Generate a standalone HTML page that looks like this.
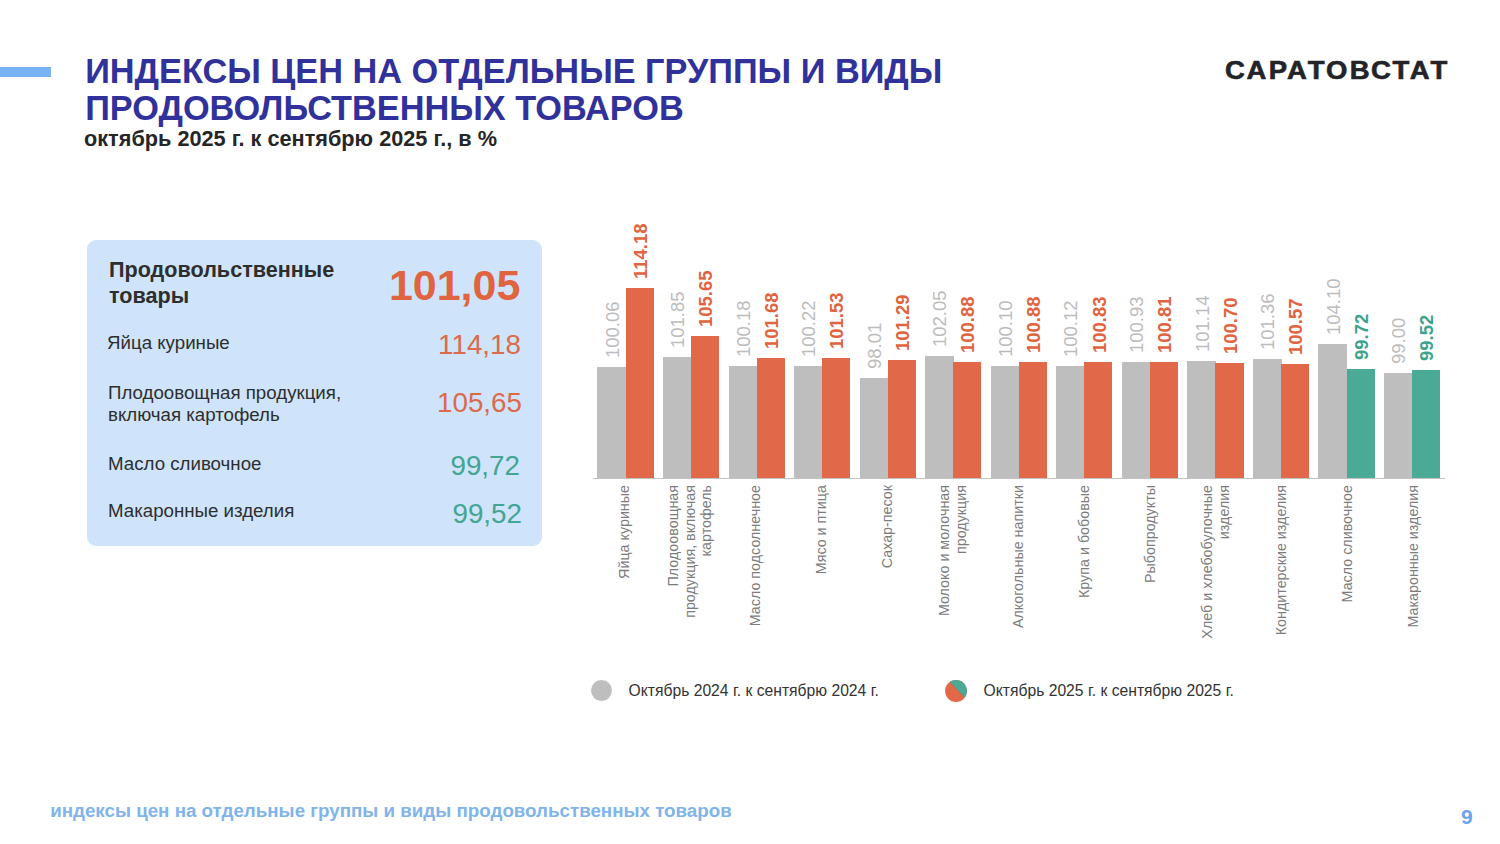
<!DOCTYPE html>
<html><head><meta charset="utf-8">
<style>
html,body{margin:0;padding:0;}
body{width:1500px;height:844px;position:relative;overflow:hidden;background:#ffffff;font-family:"Liberation Sans", sans-serif;}
.a{position:absolute;white-space:nowrap;}
.b{position:absolute;}
.vl{position:absolute;transform:rotate(-90deg);transform-origin:0 0;white-space:nowrap;font-size:18.5px;text-align:left;}
.cl{position:absolute;transform:rotate(-90deg);transform-origin:0 0;white-space:nowrap;font-size:14.3px;text-align:right;color:#7c7c7c;}
.ttl{font-weight:bold;font-size:34.3px;line-height:34.3px;color:#31319b;}
.card{position:absolute;left:87px;top:240px;width:455px;height:306px;background:#cfe4fb;border-radius:9px;}
.ct{color:#2e2e2e;}
.num{text-align:right;}
</style></head>
<body>
<div class="a" style="left:0;top:67px;width:51px;height:10px;background:#78b4f4"></div>
<div class="a ttl" style="left:85.2px;top:54.1px">ИНДЕКСЫ ЦЕН НА ОТДЕЛЬНЫЕ ГРУППЫ И ВИДЫ</div>
<div class="a ttl" style="left:85.2px;top:91.2px">ПРОДОВОЛЬСТВЕННЫХ ТОВАРОВ</div>
<div class="a" style="left:84px;top:127.6px;font-weight:bold;font-size:21.7px;line-height:21.7px;color:#262626">октябрь 2025 г. к сентябрю 2025 г., в %</div>
<div class="a" style="left:1225px;top:58.4px;font-weight:bold;font-size:25px;line-height:25px;letter-spacing:2.1px;color:#222428;-webkit-text-stroke:0.6px #222428;transform:scaleX(1.1);transform-origin:0 0">САРАТОВСТАТ</div>

<div class="card"></div>
<div class="a ct" style="left:109px;top:257.0px;font-weight:bold;font-size:21.6px;line-height:26.2px;">Продовольственные<br>товары</div>
<div class="a num" style="right:979.6px;top:263.8px;font-weight:bold;font-size:43px;line-height:43px;color:#e0643f">101,05</div>
<div class="a ct" style="left:107px;top:333.8px;font-size:18.7px;line-height:18.7px;">Яйца куриные</div>
<div class="a num" style="right:979px;top:331.2px;font-size:27.8px;line-height:27.8px;color:#dc6a4c">114,18</div>
<div class="a ct" style="left:108px;top:381.5px;font-size:18.7px;line-height:22.3px;">Плодоовощная продукция,<br>включая картофель</div>
<div class="a num" style="right:978px;top:388.9px;font-size:27.8px;line-height:27.8px;color:#dc6a4c">105,65</div>
<div class="a ct" style="left:108px;top:455.3px;font-size:18.7px;line-height:18.7px;">Масло сливочное</div>
<div class="a num" style="right:980px;top:452px;font-size:27.8px;line-height:27.8px;color:#43a592">99,72</div>
<div class="a ct" style="left:108px;top:501.8px;font-size:18.7px;line-height:18.7px;">Макаронные изделия</div>
<div class="a num" style="right:978px;top:500.4px;font-size:27.8px;line-height:27.8px;color:#43a592">99,52</div>

<div class="a" style="left:592.6px;top:478px;width:852.2px;height:1.2px;background:#c4c4c4"></div>
<div class="b" style="left:597.40px;top:366.67px;width:28.80px;height:111.73px;background:#bebebe"></div>
<div class="b" style="left:625.50px;top:288.02px;width:28.10px;height:190.38px;background:#e2684a"></div>
<div class="vl" style="left:603.60px;top:357.67px;width:80px;height:18.5px;line-height:18.5px;color:#bcbcbc;font-weight:normal">100.06</div>
<div class="vl" style="left:631.70px;top:279.02px;width:80px;height:18.5px;line-height:18.5px;color:#e0643f;font-weight:bold">114.18</div>
<div class="cl" style="left:615.80px;top:665.30px;width:180px;height:16.60px;line-height:16.6px">Яйца куриные</div>
<div class="b" style="left:662.95px;top:356.70px;width:28.80px;height:121.70px;background:#bebebe"></div>
<div class="b" style="left:691.05px;top:335.53px;width:28.10px;height:142.87px;background:#e2684a"></div>
<div class="vl" style="left:669.15px;top:347.70px;width:80px;height:18.5px;line-height:18.5px;color:#bcbcbc;font-weight:normal">101.85</div>
<div class="vl" style="left:697.25px;top:326.53px;width:80px;height:18.5px;line-height:18.5px;color:#e0643f;font-weight:bold">105.65</div>
<div class="cl" style="left:664.95px;top:665.30px;width:180px;height:49.80px;line-height:16.6px">Плодоовощная<br>продукция, включая<br>картофель</div>
<div class="b" style="left:728.50px;top:366.00px;width:28.80px;height:112.40px;background:#bebebe"></div>
<div class="b" style="left:756.60px;top:357.64px;width:28.10px;height:120.76px;background:#e2684a"></div>
<div class="vl" style="left:734.70px;top:357.00px;width:80px;height:18.5px;line-height:18.5px;color:#bcbcbc;font-weight:normal">100.18</div>
<div class="vl" style="left:762.80px;top:348.64px;width:80px;height:18.5px;line-height:18.5px;color:#e0643f;font-weight:bold">101.68</div>
<div class="cl" style="left:747.30px;top:665.30px;width:180px;height:16.60px;line-height:16.6px">Масло подсолнечное</div>
<div class="b" style="left:794.05px;top:365.77px;width:28.80px;height:112.63px;background:#bebebe"></div>
<div class="b" style="left:822.15px;top:358.48px;width:28.10px;height:119.92px;background:#e2684a"></div>
<div class="vl" style="left:800.25px;top:356.77px;width:80px;height:18.5px;line-height:18.5px;color:#bcbcbc;font-weight:normal">100.22</div>
<div class="vl" style="left:828.35px;top:349.48px;width:80px;height:18.5px;line-height:18.5px;color:#e0643f;font-weight:bold">101.53</div>
<div class="cl" style="left:813.05px;top:665.30px;width:180px;height:16.60px;line-height:16.6px">Мясо и птица</div>
<div class="b" style="left:859.60px;top:378.08px;width:28.80px;height:100.32px;background:#bebebe"></div>
<div class="b" style="left:887.70px;top:359.81px;width:28.10px;height:118.59px;background:#e2684a"></div>
<div class="vl" style="left:865.80px;top:369.08px;width:80px;height:18.5px;line-height:18.5px;color:#bcbcbc;font-weight:normal">98.01</div>
<div class="vl" style="left:893.90px;top:350.81px;width:80px;height:18.5px;line-height:18.5px;color:#e0643f;font-weight:bold">101.29</div>
<div class="cl" style="left:878.80px;top:665.30px;width:180px;height:16.60px;line-height:16.6px">Сахар-песок</div>
<div class="b" style="left:925.15px;top:355.58px;width:28.80px;height:122.82px;background:#bebebe"></div>
<div class="b" style="left:953.25px;top:362.10px;width:28.10px;height:116.30px;background:#e2684a"></div>
<div class="vl" style="left:931.35px;top:346.58px;width:80px;height:18.5px;line-height:18.5px;color:#bcbcbc;font-weight:normal">102.05</div>
<div class="vl" style="left:959.45px;top:353.10px;width:80px;height:18.5px;line-height:18.5px;color:#e0643f;font-weight:bold">100.88</div>
<div class="cl" style="left:936.25px;top:665.30px;width:180px;height:33.20px;line-height:16.6px">Молоко и молочная<br>продукция</div>
<div class="b" style="left:990.70px;top:366.44px;width:28.80px;height:111.96px;background:#bebebe"></div>
<div class="b" style="left:1018.80px;top:362.10px;width:28.10px;height:116.30px;background:#e2684a"></div>
<div class="vl" style="left:996.90px;top:357.44px;width:80px;height:18.5px;line-height:18.5px;color:#bcbcbc;font-weight:normal">100.10</div>
<div class="vl" style="left:1025.00px;top:353.10px;width:80px;height:18.5px;line-height:18.5px;color:#e0643f;font-weight:bold">100.88</div>
<div class="cl" style="left:1010.30px;top:665.30px;width:180px;height:16.60px;line-height:16.6px">Алкогольные напитки</div>
<div class="b" style="left:1056.25px;top:366.33px;width:28.80px;height:112.07px;background:#bebebe"></div>
<div class="b" style="left:1084.35px;top:362.38px;width:28.10px;height:116.02px;background:#e2684a"></div>
<div class="vl" style="left:1062.45px;top:357.33px;width:80px;height:18.5px;line-height:18.5px;color:#bcbcbc;font-weight:normal">100.12</div>
<div class="vl" style="left:1090.55px;top:353.38px;width:80px;height:18.5px;line-height:18.5px;color:#e0643f;font-weight:bold">100.83</div>
<div class="cl" style="left:1076.05px;top:665.30px;width:180px;height:16.60px;line-height:16.6px">Крупа и бобовые</div>
<div class="b" style="left:1121.80px;top:361.82px;width:28.80px;height:116.58px;background:#bebebe"></div>
<div class="b" style="left:1149.90px;top:362.49px;width:28.10px;height:115.91px;background:#e2684a"></div>
<div class="vl" style="left:1128.00px;top:352.82px;width:80px;height:18.5px;line-height:18.5px;color:#bcbcbc;font-weight:normal">100.93</div>
<div class="vl" style="left:1156.10px;top:353.49px;width:80px;height:18.5px;line-height:18.5px;color:#e0643f;font-weight:bold">100.81</div>
<div class="cl" style="left:1141.80px;top:665.30px;width:180px;height:16.60px;line-height:16.6px">Рыбопродукты</div>
<div class="b" style="left:1187.35px;top:360.65px;width:28.80px;height:117.75px;background:#bebebe"></div>
<div class="b" style="left:1215.45px;top:363.10px;width:28.10px;height:115.30px;background:#e2684a"></div>
<div class="vl" style="left:1193.55px;top:351.65px;width:80px;height:18.5px;line-height:18.5px;color:#bcbcbc;font-weight:normal">101.14</div>
<div class="vl" style="left:1221.65px;top:354.10px;width:80px;height:18.5px;line-height:18.5px;color:#e0643f;font-weight:bold">100.70</div>
<div class="cl" style="left:1199.25px;top:665.30px;width:180px;height:33.20px;line-height:16.6px">Хлеб и хлебобулочные<br>изделия</div>
<div class="b" style="left:1252.90px;top:359.42px;width:28.80px;height:118.98px;background:#bebebe"></div>
<div class="b" style="left:1281.00px;top:363.83px;width:28.10px;height:114.57px;background:#e2684a"></div>
<div class="vl" style="left:1259.10px;top:350.42px;width:80px;height:18.5px;line-height:18.5px;color:#bcbcbc;font-weight:normal">101.36</div>
<div class="vl" style="left:1287.20px;top:354.83px;width:80px;height:18.5px;line-height:18.5px;color:#e0643f;font-weight:bold">100.57</div>
<div class="cl" style="left:1273.30px;top:665.30px;width:180px;height:16.60px;line-height:16.6px">Кондитерские изделия</div>
<div class="b" style="left:1318.45px;top:344.16px;width:28.80px;height:134.24px;background:#bebebe"></div>
<div class="b" style="left:1346.55px;top:368.56px;width:28.10px;height:109.84px;background:#4aaa96"></div>
<div class="vl" style="left:1324.65px;top:335.16px;width:80px;height:18.5px;line-height:18.5px;color:#bcbcbc;font-weight:normal">104.10</div>
<div class="vl" style="left:1352.75px;top:359.56px;width:80px;height:18.5px;line-height:18.5px;color:#3ea38e;font-weight:bold">99.72</div>
<div class="cl" style="left:1339.05px;top:665.30px;width:180px;height:16.60px;line-height:16.6px">Масло сливочное</div>
<div class="b" style="left:1384.00px;top:372.57px;width:28.80px;height:105.83px;background:#bebebe"></div>
<div class="b" style="left:1412.10px;top:369.67px;width:28.10px;height:108.73px;background:#4aaa96"></div>
<div class="vl" style="left:1390.20px;top:363.57px;width:80px;height:18.5px;line-height:18.5px;color:#bcbcbc;font-weight:normal">99.00</div>
<div class="vl" style="left:1418.30px;top:360.67px;width:80px;height:18.5px;line-height:18.5px;color:#3ea38e;font-weight:bold">99.52</div>
<div class="cl" style="left:1404.80px;top:665.30px;width:180px;height:16.60px;line-height:16.6px">Макаронные изделия</div>

<div class="a" style="left:590.9px;top:680.1px;width:20.8px;height:20.8px;border-radius:50%;background:#bebebe"></div>
<div class="a" style="left:628.5px;top:682.6px;font-size:15.7px;line-height:15.7px;color:#333">Октябрь 2024 г. к сентябрю 2024 г.</div>
<svg class="a" style="left:945px;top:680px" width="22" height="22" viewBox="0 0 22 22">
<defs><clipPath id="cc"><circle cx="11" cy="11" r="10.9"/></clipPath></defs>
<g clip-path="url(#cc)"><rect x="0" y="0" width="22" height="22" fill="#e2684a"/><polygon points="-2,-5.12 26,23.97 26,-6 -2,-6" fill="#4aaa96"/><line x1="-2" y1="-5.12" x2="26" y2="23.97" stroke="#7a6a55" stroke-width="0.5" stroke-opacity="0.6"/></g>
</svg>
<div class="a" style="left:983.5px;top:682.6px;font-size:15.7px;line-height:15.7px;color:#333">Октябрь 2025 г. к сентябрю 2025 г.</div>

<div class="a" style="left:50.2px;top:802.3px;font-weight:bold;font-size:18.75px;line-height:18.75px;color:#80b4ea">индексы цен на отдельные группы и виды продовольственных товаров</div>
<div class="a" style="left:1461px;top:806.2px;font-weight:bold;font-size:21px;line-height:21px;color:#6da4ee">9</div>
</body></html>
